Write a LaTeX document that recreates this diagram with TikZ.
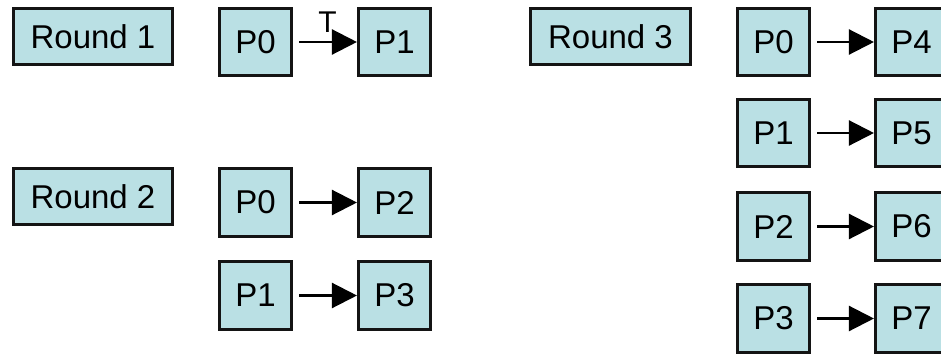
\documentclass[tikz,border=0pt]{standalone}
\usepackage{fontspec}
\setmainfont{Liberation Sans}
\usetikzlibrary{arrows.meta}
\definecolor{boxfill}{RGB}{186,224,228}
\definecolor{boxline}{RGB}{20,20,20}
\tikzset{
  pbox/.style={draw=boxline, fill=boxfill, line width=2.6pt, minimum width=72.5pt, minimum height=67.5pt, inner sep=0pt, font=\fontsize{33}{33}\selectfont},
  rbox/.style={draw=boxline, fill=boxfill, line width=2.6pt, minimum width=159.5pt, minimum height=56.5pt, inner sep=0pt, font=\fontsize{33}{33}\selectfont},
  conn/.style={line width=2.3pt, -{Triangle[length=25pt,width=25pt]}},
}
\begin{document}
\begin{tikzpicture}[x=1pt,y=-1pt]
\useasboundingbox (0,0) rectangle (941,356);
\clip (0,0) rectangle (941,356);
% Round 1
\node[rbox] (r1) at (93,36.5) {Round 1};
\node[pbox] (a0) at (255.5,42) {P0};
\node[pbox] (a1) at (394.5,42) {P1};
\draw[conn] ([xshift=6pt]a0.east) -- (a1.west);
\node[font=\fontsize{30}{30}\selectfont, inner sep=0pt] (t) at (327.5,22) {T};
% Round 2
\node[rbox] (r2) at (93,196.5) {Round 2};
\node[pbox] (b0) at (255.5,202.5) {P0};
\node[pbox] (b2) at (394.5,202.5) {P2};
\node[pbox] (b1) at (255.5,295.5) {P1};
\node[pbox] (b3) at (394.5,295.5) {P3};
\draw[conn] ([xshift=6pt]b0.east) -- (b2.west);
\draw[conn] ([xshift=6pt]b1.east) -- (b3.west);
% Round 3
\node[rbox] (r3) at (610.5,36.5) {Round 3};
\node[pbox] (c0) at (773.5,42) {P0};
\node[pbox] (c4) at (911.5,42) {P4};
\node[pbox] (c1) at (773.5,133) {P1};
\node[pbox] (c5) at (911.5,133) {P5};
\node[pbox] (c2) at (773.5,226.5) {P2};
\node[pbox] (c6) at (911.5,226.5) {P6};
\node[pbox] (c3) at (773.5,318.5) {P3};
\node[pbox] (c7) at (911.5,318.5) {P7};
\draw[conn] ([xshift=6pt]c0.east) -- (c4.west);
\draw[conn] ([xshift=6pt]c1.east) -- (c5.west);
\draw[conn] ([xshift=6pt]c2.east) -- (c6.west);
\draw[conn] ([xshift=6pt]c3.east) -- (c7.west);
\end{tikzpicture}
\end{document}
